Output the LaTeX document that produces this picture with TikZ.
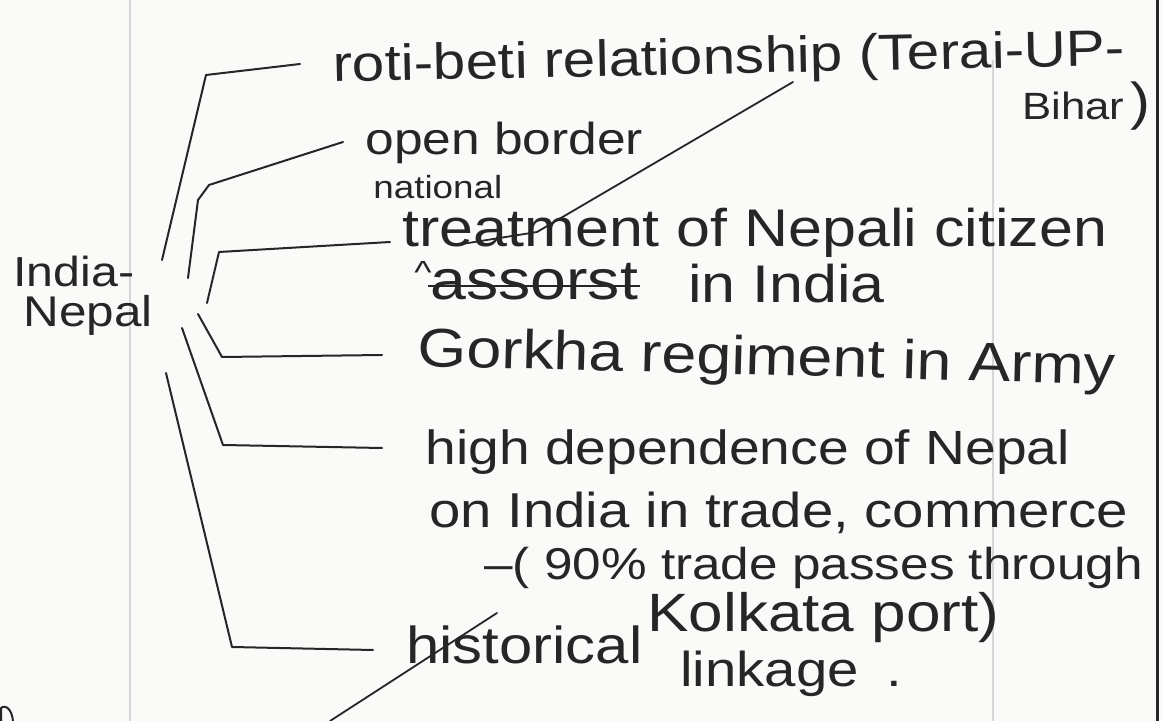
\documentclass[tikz,border=0pt]{standalone}
\usepackage{fontspec}
\setmainfont{Liberation Sans}
\newfontfamily\handfont[FakeStretch=1.15]{Liberation Sans}
\usetikzlibrary{calc}
\definecolor{ink}{HTML}{262626}
\definecolor{paper}{HTML}{FAFAF8}
\definecolor{ruleline}{HTML}{D6D6D6}
\tikzset{
  note/.style={anchor=base west, inner sep=0pt, text=ink,
    font=\handfont\fontsize{#1}{#1}\selectfont},
  branch/.style={draw=ink, line width=1pt, line join=round, line cap=round},
}
\begin{document}
\begin{tikzpicture}[x=0.5pt,y=-0.5pt]
% sheet and its ruled margins
\fill[paper] (0,0) rectangle (1163,721);
\useasboundingbox (0,0) rectangle (1163,721);
\draw[ruleline, line width=0.6pt] (130,0) -- (130,721);
\draw[ruleline, line width=0.6pt] (993,60) -- (993,721);
\draw[ink, line width=1.5pt] (1157,0) -- (1157,721);

% central topic
\node[note=21] (india) at (13,287) {India-};
\node[note=21.5] (nepal) at (23,327) {Nepal};

% points
\node[note=25.4, rotate=1.2] (roti) at (333,82) {roti-beti relationship (Terai-UP-};
\node[note=19] (bihar) at (1022,120) {Bihar\,{\fontsize{26}{26}\selectfont)}};
\node[note=22.4] (open) at (365,155) {open border};
\node[note=16] (national) at (373,199) {national};
\node[note=26.5] (treat) at (402,247) {treatment of Nepali citizen};
\node[note=16] (caret) at (414,284) {\textasciicircum};
\node[note=28] (cross) at (430,300) {assorst};
\node[note=26.5] (inindia) at (688,303) {in India};
\node[note=27.3, rotate=-1.5] (gorkha) at (417,366) {Gorkha regiment in Army};
\node[note=24] (high) at (425,465) {high dependence of Nepal};
\node[note=24.5] (on) at (429,528) {on India in trade, commerce};
\node[note=22.3] (ninety) at (484,580) {–( 90\% trade passes through};
\node[note=27] (kolkata) at (647,632) {Kolkata port)};
\node[note=26] (hist) at (406,664) {historical};
\node[note=24.5] (linkage) at (680,687) {linkage\hspace{14pt}.};

% branches from the central topic
\coordinate (s1) at (162,260);
\coordinate (k1) at (206,75);
\coordinate (s2) at (188,278);
\coordinate (k2a) at (198,200);
\coordinate (k2b) at (209,185);
\coordinate (s3) at (207,303);
\coordinate (k3) at (219,252);
\coordinate (s4) at (198,314);
\coordinate (k4) at (222,357);
\coordinate (s5) at (182,328);
\coordinate (k5) at (223,445);
\coordinate (s6) at (166,373);
\coordinate (k6) at (232,647);

\draw[branch] (s1) -- (k1) -- ($(roti.base west)+(-33,-18)$);
\draw[branch] (s2) -- (k2a) -- (k2b) -- ($(open.base west)+(-22,-13)$);
\draw[branch] (s3) -- (k3) -- ($(treat.base west)+(-12,-5)$);
\draw[branch] (s4) -- (k4) -- ($(gorkha.base west)+(-35,-11)$);
\draw[branch] (s5) -- (k5) -- ($(high.base west)+(-43,-17)$);
\draw[branch] (s6) -- (k6) -- ($(hist.base west)+(-33,-14)$);

% corrections
\coordinate (d1) at (793,82);
\coordinate (d2) at (537,232);
\coordinate (d3) at (462,244);
\draw[branch, line width=0.9pt] (d1) -- (d2) -- (d3);
\draw[ink, line width=0.9pt] ($(cross.base west)+(-2,-14)$) -- ($(cross.base east)+(2,-14)$);
\coordinate (h1) at (497,613);
\coordinate (h2) at (330,721);
\draw[branch, line width=0.9pt] (h1) -- (h2);

% stroke of the next line cut by the sheet edge
\draw[branch] (1,721) -- (1,708) .. controls (6,704) and (12,710) .. (13,721);
\end{tikzpicture}
\end{document}
